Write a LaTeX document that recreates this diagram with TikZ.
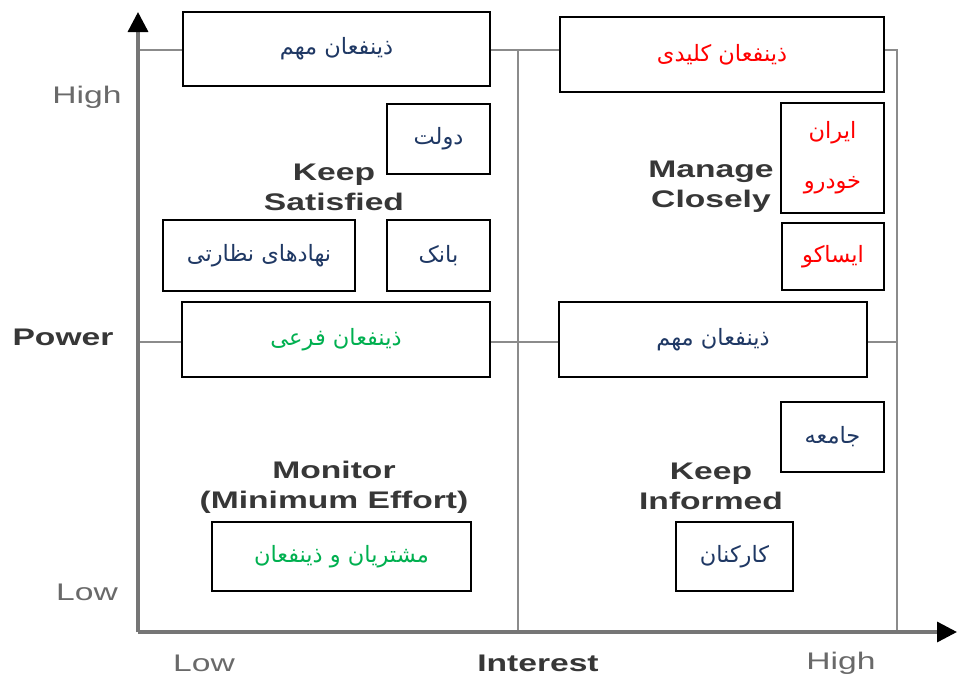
\documentclass[tikz,border=0pt]{standalone}
\usepackage{fontspec}
\setmainfont{Liberation Sans}
\newfontfamily\widesans[FakeStretch=1.4]{Liberation Sans}
\newfontfamily\arabicfont[Script=Arabic]{DejaVu Sans}
\TeXXeTstate=1
\usetikzlibrary{arrows.meta}
\definecolor{navy}{RGB}{31,56,100}
\definecolor{keyred}{RGB}{255,0,0}
\definecolor{minorgreen}{RGB}{0,176,80}
\definecolor{axisgray}{RGB}{118,118,118}
\definecolor{labelgray}{RGB}{55,55,55}
\tikzset{
	stakebox/.style={draw=black,line width=1.6pt,fill=white,inner sep=0pt,align=center,
		font=\arabicfont\fontsize{22.5}{50}\selectfont},
	quadlabel/.style={font=\widesans\bfseries\fontsize{24}{30}\selectfont,text=labelgray,align=center},
	axislabel/.style={font=\widesans\fontsize{24}{28}\selectfont,text=labelgray!75},
	gridline/.style={draw=axisgray!85,line width=2.8pt},
	axisline/.style={draw=axisgray,line width=3.4pt,-{Triangle[length=20pt,width=20pt,color=black]}}
}
\begin{document}
\begin{tikzpicture}[x=1pt,y=-1pt]
	\useasboundingbox (0,0) rectangle (959,680);
	\fill[white] (0,0) rectangle (959,680);
	\coordinate (origin) at (138,632);
	\coordinate (ytop) at (138,12);
	\coordinate (xend) at (957,632);
	\coordinate (nw) at (138,50);
	\coordinate (ne) at (897,50);
	\coordinate (se) at (897,632);
	\coordinate (midtop) at (518,50);
	\coordinate (midbot) at (518,632);
	\coordinate (midleft) at (138,342);
	\coordinate (midright) at (897,342);
	\draw[gridline] (nw) -- (ne) -- (se);
	\draw[gridline] (midtop) -- (midbot);
	\draw[gridline] (midleft) -- (midright);
	\draw[axisline] (origin) -- (ytop);
	\draw[axisline] (origin) -- (xend);
	\node[quadlabel] (keepsat) at (334,187) {Keep\\Satisfied};
	\node[quadlabel] (manage) at (711,187) {Manage\\Closely};
	\node[quadlabel] (monitor) at (334,487) {Monitor\\(Minimum Effort)};
	\node[quadlabel] (keepinf) at (711,486) {Keep\\Informed};
	\node[axislabel] (powhigh) at (87,97) {High};
	\node[axislabel,font=\widesans\bfseries\fontsize{24}{28}\selectfont,text=labelgray] (power) at (63,337) {Power};
	\node[axislabel] (powlow) at (87,592) {Low};
	\node[axislabel] (intlow) at (204,663) {Low};
	\node[axislabel,font=\widesans\bfseries\fontsize{24}{28}\selectfont,text=labelgray] (interest) at (538,663) {Interest};
	\node[axislabel] (inthigh) at (841,663) {High};
	\node[stakebox,minimum width=307pt,minimum height=74pt,text=navy] (impleft) at (336.5,49) {\beginR ذینفعان مهم\endR};
	\node[stakebox,minimum width=324pt,minimum height=75pt,text=keyred] (keystake) at (722,54.5) {\beginR ذینفعان کلیدی\endR};
	\node[stakebox,minimum width=103pt,minimum height=70pt,text=navy] (gov) at (438.5,139) {\beginR دولت\endR};
	\node[stakebox,minimum width=103pt,minimum height=110pt,text=keyred] (iran) at (832.5,158) {\beginR ایران\endR\\\beginR خودرو\endR};
	\node[stakebox,minimum width=102pt,minimum height=67pt,text=keyred] (isaco) at (833,256.5) {\beginR ایساکو\endR};
	\node[stakebox,minimum width=192pt,minimum height=71pt,text=navy] (regulators) at (259,255.5) {\beginR نهادهای نظارتی\endR};
	\node[stakebox,minimum width=103pt,minimum height=71pt,text=navy] (bank) at (438.5,255.5) {\beginR بانک\endR};
	\node[stakebox,minimum width=308pt,minimum height=75pt,text=minorgreen] (minorstake) at (336,339.5) {\beginR ذینفعان فرعی\endR};
	\node[stakebox,minimum width=308pt,minimum height=75pt,text=navy] (impright) at (713,339.5) {\beginR ذینفعان مهم\endR};
	\node[stakebox,minimum width=103pt,minimum height=70pt,text=navy] (society) at (832.5,437) {\beginR جامعه\endR};
	\node[stakebox,minimum width=259pt,minimum height=69pt,text=minorgreen] (customers) at (341.5,556.5) {\beginR مشتریان و ذینفعان\endR};
	\node[stakebox,minimum width=117pt,minimum height=69pt,text=navy] (staff) at (734.5,556.5) {\beginR کارکنان\endR};
\end{tikzpicture}
\end{document}
